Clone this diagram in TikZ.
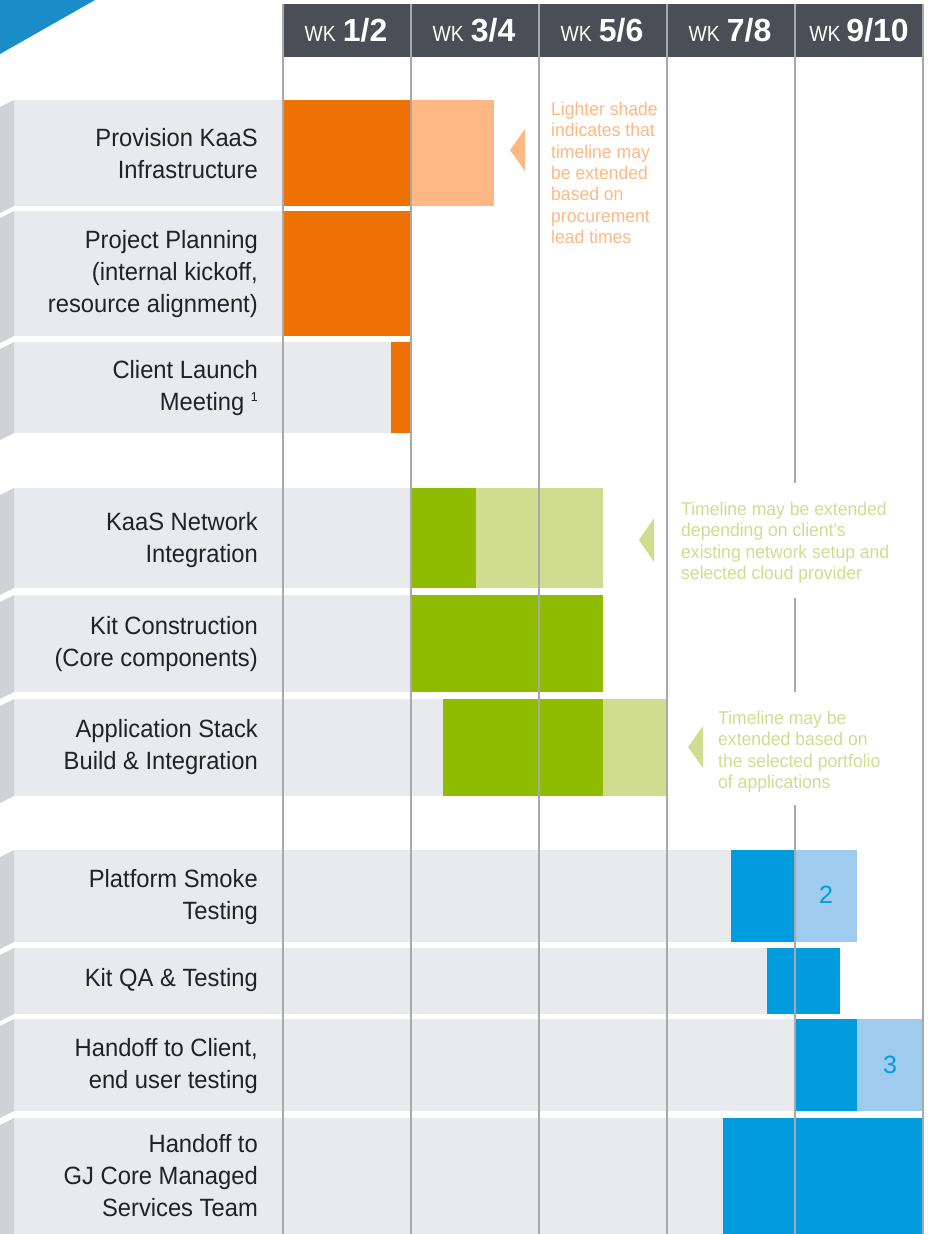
\documentclass[tikz,border=0pt]{standalone}
\usepackage{fontspec}
\setmainfont{Liberation Sans}
\newfontfamily\wkfont{Liberation Sans}[FakeStretch=0.88]
\newfontfamily\taskfont{Liberation Sans}[FakeStretch=0.95]
\usepackage{xcolor}
\usetikzlibrary{positioning}

\definecolor{orangedark}{HTML}{EE7203}
\definecolor{orangelight}{HTML}{FFB784}
\definecolor{greendark}{HTML}{8FBC00}
\definecolor{greenlight}{HTML}{D0DC8F}
\definecolor{bluedark}{HTML}{009CDE}
\definecolor{bluelight}{HTML}{9ECBEE}
\definecolor{rowgray}{HTML}{E9EAEE}
\definecolor{bevelgray}{HTML}{D1D2D5}
\definecolor{hdrgray}{HTML}{4B4E56}
\definecolor{gridgray}{HTML}{A8A9AD}
\definecolor{cornerblue}{HTML}{1A8DC9}
\definecolor{labeltext}{HTML}{222222}

\begin{document}
\begin{tikzpicture}[
  x=1pt, y=-1pt,
  task/.style={anchor=east, align=right, inner sep=0pt, text=labeltext, font=\taskfont\fontsize{25}{32}\selectfont},
  note/.style={anchor=north west, align=left, inner sep=0pt, font=\taskfont\fontsize{18.5}{21.3}\selectfont},
  wkhead/.style={text=white, inner sep=0pt},
  grid/.style={draw=gridgray, line width=2pt},
  bevel/.style={fill=bevelgray},
  rowbg/.style={fill=rowgray}
]
\useasboundingbox (0,0) rectangle (930,1234);

\fill[cornerblue] (0,0) -- (95,0) -- (0,54) -- cycle;
\fill[hdrgray] (283,4) rectangle (923,57);

\fill[rowbg] (14,100) rectangle (283,206);
\fill[bevel] (0,107) -- (14,100) -- (14,206) -- (0,213) -- cycle;
\fill[rowbg] (14,211) rectangle (283,336);
\fill[bevel] (0,218) -- (14,211) -- (14,336) -- (0,343) -- cycle;
\fill[rowbg] (14,342) rectangle (391,433);
\fill[bevel] (0,349) -- (14,342) -- (14,433) -- (0,440) -- cycle;

\fill[rowbg] (14,488) rectangle (411,588);
\fill[bevel] (0,495) -- (14,488) -- (14,588) -- (0,595) -- cycle;
\fill[rowbg] (14,595) rectangle (411,692);
\fill[bevel] (0,602) -- (14,595) -- (14,692) -- (0,699) -- cycle;
\fill[rowbg] (14,699) rectangle (443,796);
\fill[bevel] (0,706) -- (14,699) -- (14,796) -- (0,803) -- cycle;

\fill[rowbg] (14,850) rectangle (731,942);
\fill[bevel] (0,857) -- (14,850) -- (14,942) -- (0,949) -- cycle;
\fill[rowbg] (14,948) rectangle (767,1014);
\fill[bevel] (0,955) -- (14,948) -- (14,1014) -- (0,1021) -- cycle;
\fill[rowbg] (14,1019) rectangle (795,1111);
\fill[bevel] (0,1026) -- (14,1019) -- (14,1111) -- (0,1118) -- cycle;
\fill[rowbg] (14,1118) rectangle (723,1234);
\fill[bevel] (0,1125) -- (14,1118) -- (14,1234) -- (0,1241) -- cycle;

\fill[orangedark] (283,100) rectangle (411,206);
\fill[orangelight] (411,100) rectangle (494,206);
\fill[orangedark] (283,211) rectangle (411,336);
\fill[orangedark] (391,342) rectangle (411,433);
\fill[orangelight] (510,150) -- (525,129) -- (525,171) -- cycle;

\fill[greendark] (411,488) rectangle (476,588);
\fill[greenlight] (476,488) rectangle (603,588);
\fill[greendark] (411,595) rectangle (603,692);
\fill[greendark] (443,699) rectangle (603,796);
\fill[greenlight] (603,699) rectangle (667,796);
\fill[greenlight] (639,540) -- (654,518) -- (654,562) -- cycle;
\fill[greenlight] (688,747) -- (703,726) -- (703,768) -- cycle;

\fill[bluedark] (731,850) rectangle (795,942);
\fill[bluelight] (795,850) rectangle (857,942);
\fill[bluedark] (767,948) rectangle (840,1014);
\fill[bluedark] (795,1019) rectangle (857,1111);
\fill[bluelight] (857,1019) rectangle (923,1111);
\fill[bluedark] (723,1118) rectangle (923,1234);

\draw[grid] (283,4) -- (283,1234);
\draw[grid] (411,4) -- (411,1234);
\draw[grid] (539,4) -- (539,1234);
\draw[grid] (667,4) -- (667,1234);
\draw[grid] (795,4) -- (795,483);
\draw[grid] (795,598) -- (795,692);
\draw[grid] (795,805) -- (795,1234);
\draw[grid] (923,4) -- (923,1234);

\node[wkhead] (wk12) at (346,30) {{\wkfont\fontsize{22}{22}\selectfont WK}\hspace{7pt}{\bfseries\fontsize{32}{32}\selectfont 1/2}};
\node[wkhead] (wk34) at (474,30) {{\wkfont\fontsize{22}{22}\selectfont WK}\hspace{7pt}{\bfseries\fontsize{32}{32}\selectfont 3/4}};
\node[wkhead] (wk56) at (602,30) {{\wkfont\fontsize{22}{22}\selectfont WK}\hspace{7pt}{\bfseries\fontsize{32}{32}\selectfont 5/6}};
\node[wkhead] (wk78) at (730,30) {{\wkfont\fontsize{22}{22}\selectfont WK}\hspace{7pt}{\bfseries\fontsize{32}{32}\selectfont 7/8}};
\node[wkhead] (wk910) at (859,30) {{\wkfont\fontsize{22}{22}\selectfont WK}\hspace{6pt}{\bfseries\fontsize{32}{32}\selectfont 9/10}};

\node[task] (provision) at (258,154) {Provision KaaS\\Infrastructure};
\node[task] (planning) at (258,274) {Project Planning\\(internal kickoff,\\resource alignment)};
\node[task] (launch) at (258,388) {Client Launch\\Meeting {\fontsize{13}{13}\selectfont\raisebox{9pt}{1}}};
\node[task] (network) at (258,540) {KaaS Network\\Integration};
\node[task] (kit) at (258,644) {Kit Construction\\(Core components)};
\node[task] (appstack) at (258,747) {Application Stack\\Build \& Integration};
\node[task] (smoke) at (258,897) {Platform Smoke\\Testing};
\node[task] (kitqa) at (258,980) {Kit QA \& Testing};
\node[task] (handclient) at (258,1066) {Handoff to Client,\\end user testing};
\node[task] (handgj) at (258,1176) {Handoff to\\GJ Core Managed\\Services Team};

\node[note, text=orangelight] (shadenote) at (551,102) {Lighter shade\\indicates that\\timeline may\\be extended\\based on\\procurement\\lead times};
\node[note, text=greenlight] (networknote) at (681,502) {Timeline may be extended\\depending on client's\\existing network setup and\\selected cloud provider};
\node[note, text=greenlight] (stacknote) at (718,711) {Timeline may be\\extended based on\\the selected portfolio\\of applications};

\node[text=bluedark, font=\fontsize{25}{25}\selectfont] (ext2) at (826,895) {2};
\node[text=bluedark, font=\fontsize{25}{25}\selectfont] (ext3) at (890,1065) {3};

\end{tikzpicture}
\end{document}
